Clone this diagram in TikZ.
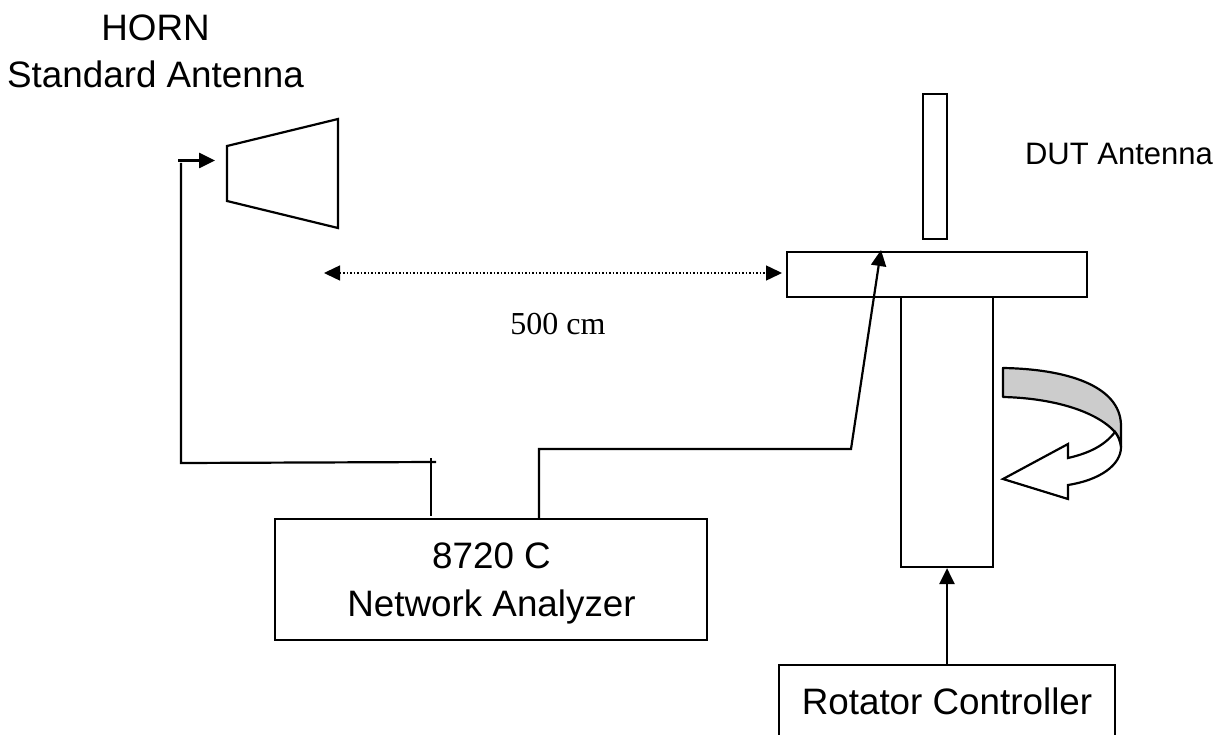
\documentclass[tikz,border=0pt]{standalone}
\usepackage{fontspec}
\setmainfont{Liberation Sans}
\newfontfamily\labelserif{Liberation Serif}
\usetikzlibrary{arrows.meta}
\tikzstyle{arrow} = [line width=2.6pt,-{Triangle[length=16pt,width=15pt]}]
\tikzstyle{wire} = [line width=2.2pt]
\tikzstyle{box} = [rectangle, draw=black, line width=2.2pt, inner sep=0pt]
\tikzstyle{label} = [inner sep=0pt, align=center, font=\fontsize{36.8}{47}\selectfont]

\begin{document}
\begin{tikzpicture}[x=1pt, y=-1pt]
\useasboundingbox (0,0) rectangle (1225,735);

\node (title) [label] at (155.5,51.5) {HORN\\Standard Antenna};
\node (dutlabel) [label, font=\fontsize{31}{36}\selectfont] at (1119,153.5) {DUT Antenna};
\node (dist) [label, font=\labelserif\fontsize{32}{38}\selectfont] at (558,324.5) {500 cm};

\node (analyzer) [box, minimum width=432pt, minimum height=121pt] at (491,579.5) {};
\node (analyzertext) [label, font=\fontsize{36.8}{48}\selectfont] at (491.5,583) {8720 C\\Network Analyzer};
\node (controller) [box, minimum width=336pt, minimum height=72pt, label, inner sep=0pt] at (947,701) {Rotator Controller};
\node (dut) [box, minimum width=24pt, minimum height=145pt] at (935,166.5) {};
\node (table) [box, minimum width=300pt, minimum height=45pt] at (937,274.5) {};
\node (column) [box, minimum width=92pt, minimum height=270pt] at (947,432) {};

% horn
\draw [wire, line join=miter] (227,146) -- (338,119) -- (338,228) -- (227,201) -- cycle;

\coordinate (horn_in) at (215,160.5);
\coordinate (horn_start) at (178,160.5);
\coordinate (l_top) at (181,163);
\coordinate (l_corner) at (181,463);
\coordinate (l_end) at (436,462);
\coordinate (tick_top) at (431,458);
\coordinate (tick_bot) at (431,516);
\coordinate (na_out) at (539,519);
\coordinate (na_up) at (539,449);
\coordinate (na_right) at (851,449);
\coordinate (table_in) at (881,250);
\coordinate (dist_l) at (324,273);
\coordinate (dist_r) at (782,273);

\draw [arrow] (horn_start) -- (horn_in);
\draw [wire] (l_top) -- (l_corner) -- (l_end);
\draw [wire] (tick_top) -- (tick_bot);
\draw [wire, -{Triangle[length=16pt,width=15pt]}] (na_out) -- (na_up) -- (na_right) -- (table_in);
\draw [arrow] (controller.north -| column.south) -- (column.south);
\draw [line width=1.5pt, dotted, {Triangle[length=16pt,width=15pt]}-{Triangle[length=16pt,width=15pt]}] (dist_l) -- (dist_r);

% rotation arrow
\draw [wire, fill=black!20, line join=round] (1003,368) .. controls (1065,369) and (1120,385) .. (1121,425) -- (1121,447) .. controls (1120,440) and (1118,436) .. (1115,432) .. controls (1095,410) and (1050,398) .. (1003,397) -- cycle;
\draw [wire, fill=white, line join=miter] (1115,432) .. controls (1105,445) and (1090,453) .. (1068,458) -- (1068,444) -- (1003,479) -- (1068,499) -- (1068,485) .. controls (1100,480) and (1121,465) .. (1121,447) .. controls (1120,440) and (1118,436) .. (1115,432) -- cycle;

\end{tikzpicture}
\end{document}
